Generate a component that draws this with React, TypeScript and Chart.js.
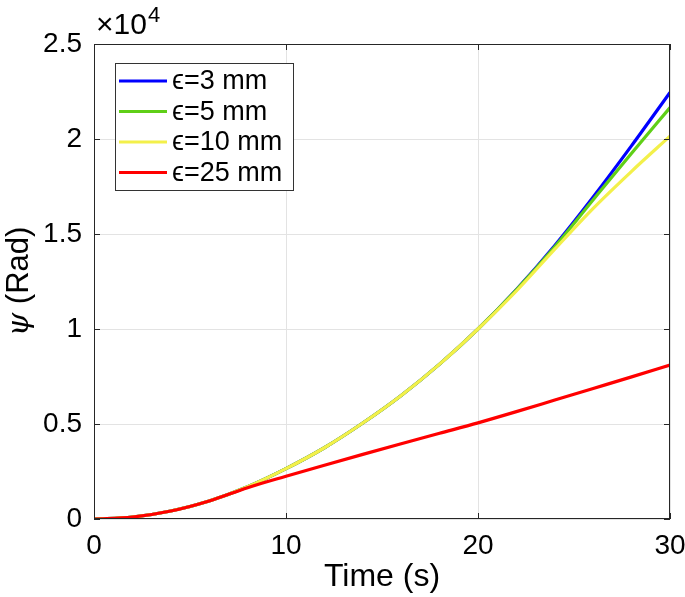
import React, { useEffect, useRef } from 'react';
import { Chart, registerables } from 'chart.js';

Chart.register(...registerables);

// ---- data ----
const timeS = [0, 2, 4, 6, 8, 10, 12, 14, 16, 18, 20, 22, 24, 26, 28, 30];
const psiEps3 = [0, 100, 420, 950, 1700, 2650, 3750, 5050, 6500, 8150, 10000, 12080, 14400, 16950, 19650, 22450];
const psiEps5 = [0, 100, 420, 950, 1700, 2650, 3750, 5050, 6500, 8150, 10000, 12060, 14330, 16800, 19250, 21650];
const psiEps10 = [0, 100, 420, 950, 1700, 2650, 3750, 5050, 6500, 8150, 10000, 12000, 14200, 16350, 18300, 20150];
const psiEps25 = [0, 100, 420, 950, 1650, 2250, 2830, 3400, 3960, 4510, 5060, 5650, 6260, 6870, 7480, 8100];
const legendLabels = ['ϵ=3 mm', 'ϵ=5 mm', 'ϵ=10 mm', 'ϵ=25 mm'];
const seriesColors = ['#0000ff', '#5fcf17', '#f3f04a', '#ff0000'];
const xTickValues = [0, 10, 20, 30];
const yTickValues = [0, 5000, 10000, 15000, 20000, 25000];
const xTitle = 'Time (s)';
const yTitleSymbol = 'ψ';
const yTitleRest = ' (Rad)';
const exponentBase = '×10';
const exponentPower = '4';

const FONT = '"Liberation Sans", Arial, Helvetica, sans-serif';

export default function App() {
  const ref = useRef<HTMLCanvasElement>(null);

  useEffect(() => {
    if (!ref.current) return;
    const series = [psiEps3, psiEps5, psiEps10, psiEps25];

    const decor = {
      id: 'matlabDecor',
      afterDraw(chart: any) {
        const ctx = chart.ctx as CanvasRenderingContext2D;
        const a = chart.chartArea;
        const xs = chart.scales.x;
        const ys = chart.scales.y;
        ctx.save();

        // frame
        ctx.strokeStyle = '#262626';
        ctx.lineWidth = 1;
        ctx.strokeRect(Math.round(a.left) + 0.5, Math.round(a.top) + 0.5,
          Math.round(a.right - a.left) - 1, Math.round(a.bottom - a.top) - 1);

        // inward tick marks
        const tl = 6;
        ctx.beginPath();
        xTickValues.forEach((v) => {
          const px = Math.round(xs.getPixelForValue(v)) + 0.5;
          ctx.moveTo(px, a.bottom); ctx.lineTo(px, a.bottom - tl);
          ctx.moveTo(px, a.top); ctx.lineTo(px, a.top + tl);
        });
        yTickValues.forEach((v) => {
          const py = Math.round(ys.getPixelForValue(v)) + 0.5;
          ctx.moveTo(a.left, py); ctx.lineTo(a.left + tl, py);
          ctx.moveTo(a.right, py); ctx.lineTo(a.right - tl, py);
        });
        ctx.stroke();

        // legend box
        const lx = a.left + 21, ly = a.top + 19, lw = 178, lh = 127;
        ctx.fillStyle = '#ffffff';
        ctx.fillRect(lx, ly, lw, lh);
        ctx.strokeStyle = '#333333';
        ctx.lineWidth = 1;
        ctx.strokeRect(lx + 0.5, ly + 0.5, lw, lh);
        ctx.font = `27px ${FONT}`;
        ctx.textBaseline = 'middle';
        ctx.textAlign = 'left';
        legendLabels.forEach((lab, i) => {
          const cy = ly + 18 + i * 30.5;
          ctx.strokeStyle = seriesColors[i];
          ctx.lineWidth = 3;
          ctx.beginPath();
          ctx.moveTo(lx + 4, cy);
          ctx.lineTo(lx + 52, cy);
          ctx.stroke();
          ctx.fillStyle = '#000000';
          ctx.fillText(lab, lx + 57, cy + 1);
        });

        // x10^4 label
        ctx.fillStyle = '#000000';
        ctx.textBaseline = 'alphabetic';
        ctx.font = `30px ${FONT}`;
        ctx.fillText(exponentBase, a.left + 2, 34);
        const bw = ctx.measureText(exponentBase).width;
        ctx.font = `22px ${FONT}`;
        ctx.fillText(exponentPower, a.left + 2 + bw + 1, 22);

        // y title (rotated, italic psi)
        const cyT = (a.top + a.bottom) / 2;
        ctx.translate(28, cyT);
        ctx.rotate(-Math.PI / 2);
        ctx.font = `italic 30px "DejaVu Serif", serif`;
        const w1 = ctx.measureText(yTitleSymbol).width;
        ctx.font = `31px ${FONT}`;
        const w2 = ctx.measureText(yTitleRest).width;
        const start = -(w1 + w2) / 2;
        ctx.font = `italic 30px "DejaVu Serif", serif`;
        ctx.fillText(yTitleSymbol, start, 0);
        ctx.font = `31px ${FONT}`;
        ctx.fillText(yTitleRest, start + w1, 0);
        ctx.setTransform(1, 0, 0, 1, 0, 0);

        // x title
        ctx.font = `32px ${FONT}`;
        ctx.textAlign = 'center';
        ctx.textBaseline = 'alphabetic';
        ctx.fillText(xTitle, (a.left + a.right) / 2, 586);

        ctx.restore();
      },
    };

    const chart = new Chart(ref.current, {
      type: 'line',
      data: {
        datasets: series.map((s, i) => ({
          label: legendLabels[i],
          data: s.map((y, j) => ({ x: timeS[j], y })),
          borderColor: seriesColors[i],
          backgroundColor: seriesColors[i],
          borderWidth: 3.2,
          pointRadius: 0,
          cubicInterpolationMode: 'monotone' as const,
          fill: false,
          order: 3 - i,
        })),
      },
      options: {
        responsive: false,
        animation: false,
        devicePixelRatio: 1,
        layout: { padding: { top: 44, right: 15, left: 0, bottom: 0 } },
        plugins: {
          legend: { display: false },
          tooltip: { enabled: false },
          title: { display: false },
        },
        scales: {
          x: {
            type: 'linear',
            min: 0,
            max: 30,
            afterBuildTicks: (scale: any) => {
              scale.ticks = xTickValues.map((v) => ({ value: v }));
            },
            afterFit: (scale: any) => {
              scale.height = 78;
              scale.paddingLeft = 0;
              scale.paddingRight = 0;
            },
            grid: { color: '#e3e3e3', drawTicks: false, lineWidth: 1 },
            border: { display: false },
            ticks: {
              color: '#000000',
              padding: 10,
              maxRotation: 0,
              font: { family: FONT, size: 28 },
              callback: (v: any) => String(v),
            },
          },
          y: {
            type: 'linear',
            min: 0,
            max: 25000,
            afterBuildTicks: (scale: any) => {
              scale.ticks = yTickValues.map((v) => ({ value: v }));
            },
            afterFit: (scale: any) => {
              scale.width = 94;
              scale.paddingTop = 0;
              scale.paddingBottom = 0;
            },
            grid: { color: '#e3e3e3', drawTicks: false, lineWidth: 1 },
            border: { display: false },
            ticks: {
              color: '#000000',
              padding: 12,
              font: { family: FONT, size: 28 },
              callback: (v: any) => String(Number(v) / 10000),
            },
          },
        },
      },
      plugins: [decor],
    });
    return () => chart.destroy();
  }, []);

  return (
    <div style={{ position: 'fixed', left: 0, top: 0, width: 685, height: 597, background: '#fff' }}>
      <canvas ref={ref} width={685} height={597} style={{ width: 685, height: 597, display: 'block' }} />
    </div>
  );
}
